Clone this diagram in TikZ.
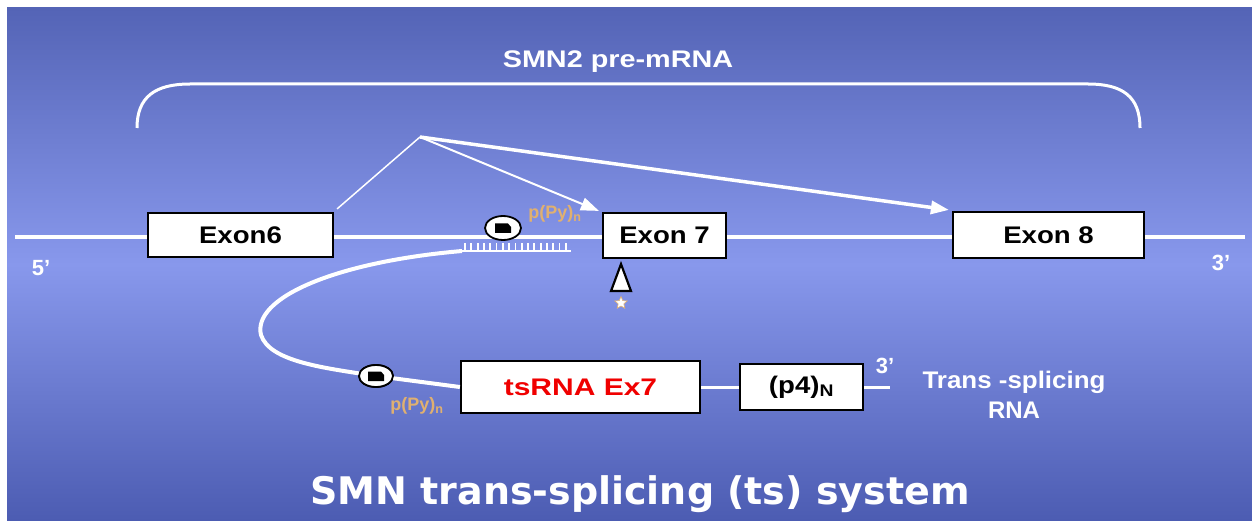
\documentclass[tikz,border=0pt]{standalone}
\usepackage{fontspec}
\usepackage{graphicx}
\setmainfont{Liberation Sans}
\newfontfamily\dvs{DejaVu Sans}
\usetikzlibrary{arrows.meta,shapes.geometric}
\definecolor{bgtop}{HTML}{5464B6}
\definecolor{bgmid}{HTML}{8898EC}
\definecolor{bgbot}{HTML}{4C5CB2}
\definecolor{pycol}{HTML}{E0B070}
\definecolor{tsred}{HTML}{F00000}
\tikzset{
  exon/.style={draw=black, line width=2.2pt, fill=white, inner sep=0pt,
    font=\bfseries\fontsize{24}{24}\selectfont},
  rna/.style={white, line width=4pt},
  thinrna/.style={white, line width=3pt},
  oval/.style={ellipse, draw=black, line width=1.8pt, fill=white, inner sep=0pt},
  pylab/.style={text=pycol, font=\bfseries\fontsize{18}{18}\selectfont, inner sep=0pt},
  endlab/.style={text=white, font=\bfseries\fontsize{22}{22}\selectfont, inner sep=0pt},
  whitelab/.style={text=white, font=\bfseries\fontsize{24}{30}\selectfont, inner sep=0pt, align=center},
  arr/.style={white, -{Triangle[length=18pt,width=13pt]}},
}
\begin{document}
\begin{tikzpicture}[x=1pt,y=-1pt]
\useasboundingbox (0,0) rectangle (1252,521);
\fill[white] (0,0) rectangle (1252,521);
\shade[top color=bgtop, bottom color=bgbot, middle color=bgmid] (7,8) rectangle (1252,521);

% title and bracket
\node[text=white, font=\bfseries\fontsize{24}{24}\selectfont, inner sep=0pt] (pretitle) at (618,62) {\scalebox{1.2}[1]{SMN2 pre-mRNA}};
\draw[white, line width=3pt] (137,128) .. controls (137,97) and (155,84) .. (190,84) -- (1088,84) .. controls (1123,84) and (1140,97) .. (1140,128);

% main pre-mRNA line
\coordinate (L5) at (15,237);
\coordinate (R3) at (1245,237);
\draw[rna] (L5) -- (R3);

% exons
\node[exon, minimum width=185pt, minimum height=44pt] (ex6) at (240.5,235) {\scalebox{1.15}[1]{Exon6}};
\node[exon, minimum width=123pt, minimum height=45pt] (ex7) at (664.5,235.5) {\scalebox{1.15}[1]{Exon 7}};
\node[exon, minimum width=191pt, minimum height=46pt] (ex8) at (1048.5,235) {\scalebox{1.15}[1]{Exon 8}};

\node[endlab] (five) at (41,268) {5'};
\node[endlab] (threeA) at (1221,263) {3'};

% splicing lines
\coordinate (apex) at (420,137);
\draw[white, line width=1.5pt] (ex6.north east) ++(3,-3) coordinate (e6c) (e6c) -- (apex);
\draw[arr, line width=2pt] (apex) -- ([shift={(-3,-1)}]ex7.north west);
\draw[arr, line width=3.5pt] (apex) -- ([shift={(-3,-1)}]ex8.north west);

% triangle and star under exon 7
\node[draw=black, line width=2.2pt, fill=white, isosceles triangle, isosceles triangle apex angle=42,
  isosceles triangle stretches, shape border rotate=90, minimum height=27pt, minimum width=20pt, inner sep=0pt, anchor=apex] (tri) at (621,261) {};
\node[star, star points=5, star point ratio=2.2, fill=white, draw=pycol, line width=0.6pt, minimum size=13pt, inner sep=0pt] (star) at (621,303) {};

% comb (base pairing)
\coordinate (combL) at (462,251);
\coordinate (combR) at (571,251);
\draw[white, line width=2.5pt] (combL) -- (combR);
\foreach \i in {0,...,16} \draw[white, line width=1.8pt] (465+\i*6.3,252) -- ++(0,-9);

% trans-splicing RNA
\node[exon, minimum width=239pt, minimum height=52pt, text=tsred] (ts) at (580.5,387) {\scalebox{1.25}[1]{tsRNA Ex7}};
\node[exon, minimum width=123pt, minimum height=46pt] (p4) at (801.5,387) {\scalebox{1.15}[1]{(p4)\textsubscript{N}}};
\coordinate (tsend) at (890,387);

\node[oval, minimum width=34pt, minimum height=22pt] (ov2) at (376,376) {};
\draw[thinrna, line width=4pt] (combL) .. controls (335,262) and (252,298) .. (261,335) .. controls (270,362) and (325,368) .. (ov2.center);
\draw[thinrna, line width=4pt] (ov2.center) -- (ts.west);
\node[oval, minimum width=34pt, minimum height=22pt] at (ov2) {};
\fill[black] (ov2.center) ++(-8,5) -- ++(16,0) -- ++(0,-6) -- ++(-3,-3.5) -- ++(-13,0) -- cycle;

\node[oval, minimum width=36pt, minimum height=24pt] (ov1) at (503,228) {};
\fill[black] (ov1.center) ++(-8,5) -- ++(16,0) -- ++(0,-6) -- ++(-3,-3.5) -- ++(-13,0) -- cycle;

\draw[thinrna] (ts.east) -- (p4.west);
\draw[thinrna] (p4.east) -- (tsend);

\node[pylab] (py1) at (555,214) {p(Py)\textsubscript{n}};
\node[pylab] (py2) at (417,406) {p(Py)\textsubscript{n}};
\node[endlab] (threeB) at (885,366) {3'};
\node[whitelab] (tslab) at (1014,395) {\scalebox{1.08}[1]{Trans -splicing}\\RNA};

% bottom title
\node[text=white, font=\dvs\bfseries\fontsize{38}{38}\selectfont, inner sep=0pt] (title) at (640,494) {SMN trans-splicing (ts) system};
\end{tikzpicture}
\end{document}
